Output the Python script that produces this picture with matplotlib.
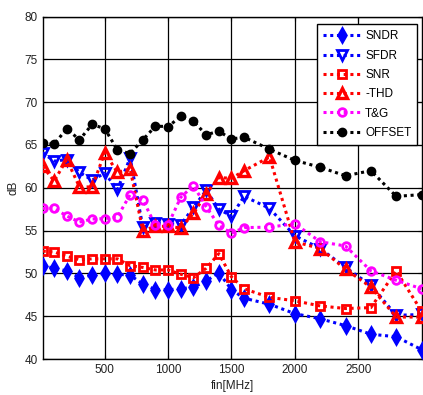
import matplotlib
matplotlib.use("Agg")
import matplotlib.pyplot as plt

plt.rcParams['font.family'] = ['Liberation Sans', 'DejaVu Sans']

fin = [10, 100, 200, 300, 400, 500, 600, 700, 800, 900, 1000, 1100, 1200, 1300,
       1400, 1500, 1600, 1800, 2000, 2200, 2400, 2600, 2800, 3000]

sndr = [50.9, 50.6, 50.3, 49.5, 49.8, 50.0, 49.9, 49.8, 48.75, 48.1, 48.1, 48.2,
        48.4, 49.1, 50.1, 48.1, 47.1, 46.4, 45.3, 44.7, 43.9, 42.9, 42.6, 41.1]
sfdr = [64.1, 63.1, 63.3, 61.8, 60.9, 61.7, 59.8, 63.5, 55.4, 55.9, 55.8, 55.7,
        57.7, 59.7, 57.5, 56.7, 59.0, 57.6, 54.4, 52.9, 50.7, 48.6, 45.1, 45.2]
snr = [52.6, 52.5, 52.0, 51.6, 51.7, 51.7, 51.7, 50.9, 50.7, 50.4, 50.4, 49.9,
       49.5, 50.6, 52.3, 49.6, 48.2, 47.2, 46.8, 46.2, 45.9, 46.0, 50.3, 45.6]
thd = [62.5, 60.8, 63.3, 60.1, 60.1, 64.1, 61.8, 62.2, 55.0, 55.5, 55.5, 55.3,
       57.0, 59.3, 61.2, 61.1, 62.0, 63.6, 53.7, 52.9, 50.5, 48.4, 44.9, 44.9]
tg = [57.6, 57.6, 56.7, 56.0, 56.35, 56.4, 56.6, 59.2, 58.6, 55.6, 55.7, 58.9,
      60.25, 57.8, 55.6, 54.7, 55.35, 55.4, 55.8, 53.7, 53.2, 50.3, 49.2, 48.2]
offset = [65.2, 65.1, 66.9, 65.6, 67.4, 66.9, 64.4, 64.0, 65.6, 67.2, 67.15, 68.35,
          67.75, 66.2, 66.6, 65.7, 65.9, 64.5, 63.2, 62.4, 61.4, 62.0, 59.0, 59.2]

labels = ['SNDR', 'SFDR', 'SNR', '-THD', 'T&G', 'OFFSET']
xticks = [500, 1000, 1500, 2000, 2500]
yticks = [40, 45, 50, 55, 60, 65, 70, 75, 80]

fig = plt.figure(figsize=(4.23, 3.95), dpi=100)
ax = fig.add_axes([0.101, 0.0911, 0.8955, 0.867])

ls = (0, (1, 1.2))
lw = 2.2
styles = [
    (sndr, 'blue', 'd', 7, 'blue', 1.8),
    (sfdr, 'blue', 'v', 7, 'none', 2.0),
    (snr, 'red', 's', 5.5, 'none', 2.0),
    (thd, 'red', '^', 7, 'none', 2.4),
    (tg, 'magenta', 'o', 5.5, 'none', 2.0),
    (offset, 'black', 'o', 5.5, 'black', 1.5),
]
for (vals, col, mk, ms, mfc, mew), lab in zip(styles, labels):
    ax.plot(fin, vals, linestyle=ls, linewidth=lw, color=col, marker=mk,
            markersize=ms, markerfacecolor=mfc, markeredgewidth=mew,
            markeredgecolor=col, label=lab, zorder=3)

ax.set_xlim(10, 3000)
ax.set_ylim(40, 80)
ax.set_xticks(xticks)
ax.set_yticks(yticks)
ax.grid(True, color='black', linewidth=0.9, linestyle='-', zorder=1)
ax.set_axisbelow(True)
ax.tick_params(direction='in', top=True, right=True, labelsize=8.5,
               length=3, colors='black', labelcolor='#222222')
for s in ax.spines.values():
    s.set_linewidth(1.0)
    s.set_color('black')

ax.set_xlabel('fin[MHz]', fontsize=8.5, labelpad=3, color='#222222')
ax.set_ylabel('dB', fontsize=8.5, labelpad=4, color='#222222')

leg = ax.legend(loc='upper right', bbox_to_anchor=(0.989, 0.977), borderaxespad=0,
                fontsize=8.5, fancybox=False, framealpha=1, edgecolor='black',
                handlelength=3.2, handletextpad=0.4, labelspacing=0.62,
                borderpad=0.5)
leg.get_frame().set_linewidth(1.0)

fig.savefig('out.png', dpi=100)
